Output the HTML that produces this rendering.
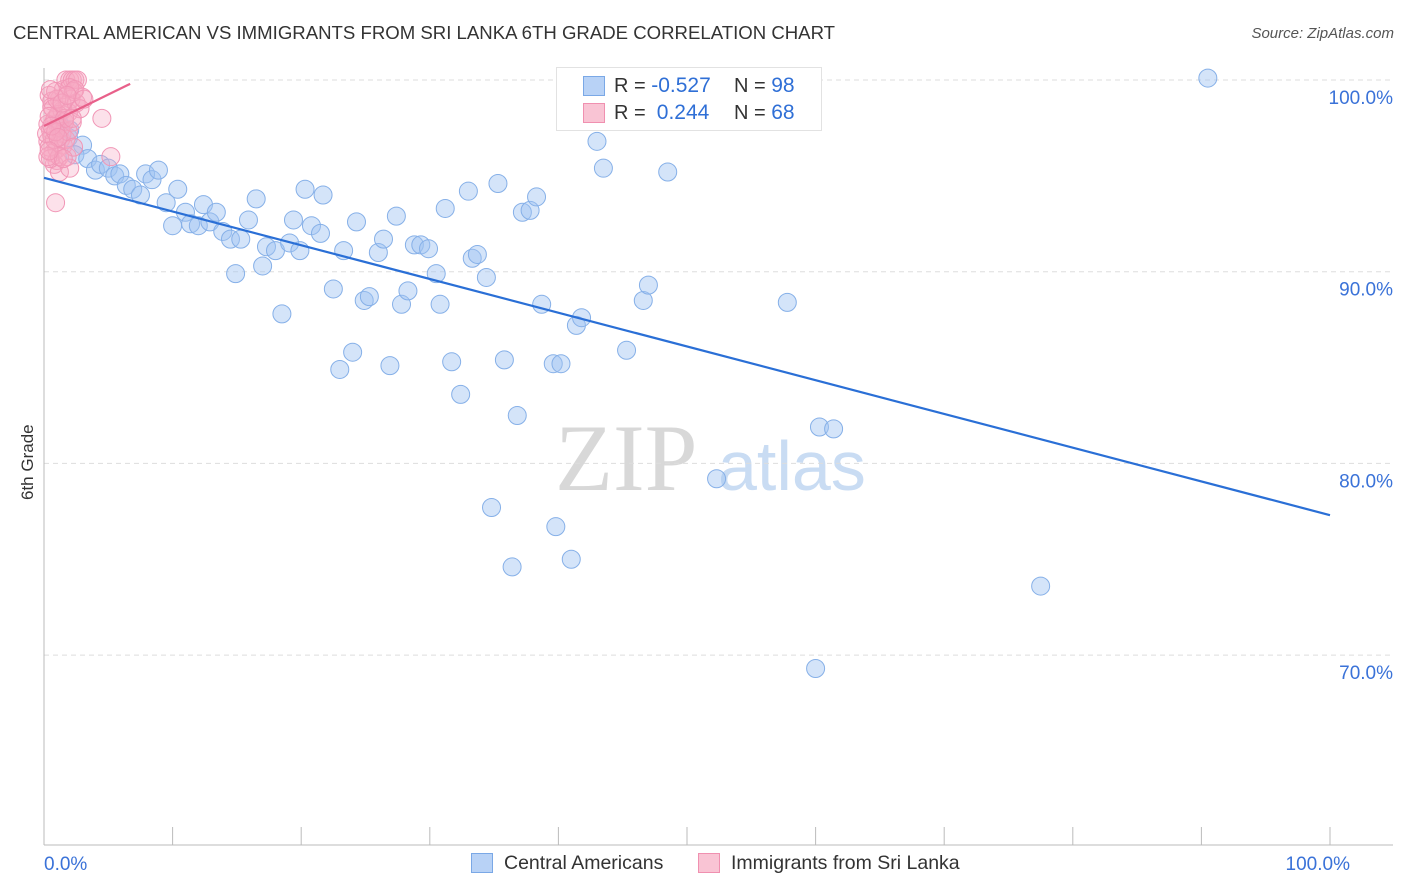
<!DOCTYPE html>
<html><head><meta charset="utf-8"><style>
body{margin:0;background:#fff;font-family:"Liberation Sans",sans-serif;}
#wrap{position:relative;width:1406px;height:892px;overflow:hidden;}
.t{position:absolute;white-space:nowrap;}
</style></head><body>
<div id="wrap">
<div class="t" style="left:13px;top:22px;font-size:18.6px;color:#333;">CENTRAL AMERICAN VS IMMIGRANTS FROM SRI LANKA 6TH GRADE CORRELATION CHART</div>
<div class="t" style="right:12px;top:25px;font-size:15px;color:#555;font-style:italic;">Source: ZipAtlas.com</div>
<div class="t" style="left:18px;top:500px;font-size:17px;color:#333;transform:rotate(-90deg);transform-origin:0 0;">6th Grade</div>
<svg id="svg" width="1406" height="892" style="position:absolute;left:0;top:0"></svg>
<div class="t" style="left:556px;top:67px;width:264px;height:62px;border:1px solid #e2e2e2;background:#fff;">
 <div style="position:absolute;left:26px;top:8px;width:20px;height:18px;background:#b8d2f6;border:1px solid #7aa8e6;"></div>
 <div style="position:absolute;left:26px;top:35px;width:20px;height:18px;background:#f9c4d4;border:1px solid #f090b0;"></div>
 <div class="t" style="left:57px;top:6px;font-size:20px;color:#333;">R = <span style="color:#2f6fd6;font-size:21px">-0.527</span></div>
 <div class="t" style="left:177px;top:6px;font-size:20px;color:#333;">N = <span style="color:#2f6fd6;font-size:21px">98</span></div>
 <div class="t" style="left:57px;top:33px;font-size:20px;color:#333;">R = &nbsp;<span style="color:#2f6fd6;font-size:21px">0.244</span></div>
 <div class="t" style="left:177px;top:33px;font-size:20px;color:#333;">N = <span style="color:#2f6fd6;font-size:21px">68</span></div>
</div>
<div class="t" style="left:471px;top:853px;width:20px;height:18px;background:#b8d2f6;border:1px solid #7aa8e6;"></div>
<div class="t" style="left:504px;top:852px;font-size:19.5px;color:#333;">Central Americans</div>
<div class="t" style="left:698px;top:853px;width:20px;height:18px;background:#f9c4d4;border:1px solid #f090b0;"></div>
<div class="t" style="left:731px;top:852px;font-size:19.5px;color:#333;">Immigrants from Sri Lanka</div>
</div>
<script>
const xTicks=[0,10,20,30,40,50,60,70,80,90,100];
const yTicks=[100,90,80,70];
const yTickLabels=["100.0%","90.0%","80.0%","70.0%"];
const xLabels=["0.0%","100.0%"];
const blueX=[1.9,3.0,2.4,3.4,4.0,4.4,5.0,5.5,5.9,6.4,6.9,7.5,7.9,8.4,8.9,9.5,10.0,10.4,11.0,11.4,12.0,12.4,12.9,13.4,13.9,14.5,14.9,15.3,15.9,16.5,17.0,17.3,18.0,18.5,19.1,19.4,19.9,20.3,20.8,21.5,21.7,22.5,23.0,23.3,24.0,24.3,24.9,25.3,26.0,26.4,26.9,27.4,27.8,28.3,28.8,29.3,29.9,30.5,30.8,31.2,31.7,32.4,33.0,33.3,33.7,34.4,34.8,35.3,35.8,36.4,36.8,37.2,37.8,38.3,38.7,39.6,39.8,40.2,41.0,41.4,41.8,43.0,43.5,45.3,46.6,47.0,48.5,49.1,52.3,57.8,60.0,60.3,61.4,77.5,90.5,1.2,2.0];
const blueY=[97.0,96.6,96.1,95.9,95.3,95.6,95.4,95.0,95.1,94.5,94.3,94.0,95.1,94.8,95.3,93.6,92.4,94.3,93.1,92.5,92.4,93.5,92.6,93.1,92.1,91.7,89.9,91.7,92.7,93.8,90.3,91.3,91.1,87.8,91.5,92.7,91.1,94.3,92.4,92.0,94.0,89.1,84.9,91.1,85.8,92.6,88.5,88.7,91.0,91.7,85.1,92.9,88.3,89.0,91.4,91.4,91.2,89.9,88.3,93.3,85.3,83.6,94.2,90.7,90.9,89.7,77.7,94.6,85.4,74.6,82.5,93.1,93.2,93.9,88.3,85.2,76.7,85.2,75.0,87.2,87.6,96.8,95.4,85.9,88.5,89.3,95.2,100.0,79.2,88.4,69.3,81.9,81.8,73.6,100.1,97.7,97.4];
const pinkX=[0.4,0.6,0.8,0.5,0.3,0.7,1.0,0.9,1.2,1.4,1.1,0.6,0.4,1.3,1.6,1.8,1.5,1.7,2.0,2.2,2.4,2.6,2.3,2.1,1.9,1.4,1.0,0.8,1.2,0.5,0.3,0.6,0.9,1.1,1.5,1.8,1.7,1.3,0.7,0.4,2.5,3.0,2.8,2.2,1.9,1.6,1.0,0.5,0.8,1.2,2.0,2.4,0.2,0.3,1.4,1.8,2.2,0.9,0.6,1.1,4.5,5.2,2.0,0.9,3.1,2.3,1.5,0.4];
const pinkY=[99.2,98.6,97.9,97.4,96.8,96.2,95.8,98.0,99.0,98.4,97.6,97.1,96.5,96.9,97.8,98.7,99.5,100.0,100.0,100.0,100.0,100.0,99.4,99.0,98.3,97.2,96.4,95.6,95.2,95.9,97.7,98.9,99.4,98.2,96.6,96.0,96.9,97.5,98.5,98.1,98.8,99.1,98.5,97.8,97.3,98.0,99.0,99.5,96.9,96.0,99.6,99.5,97.2,96.0,98.8,99.2,98.0,97.3,97.6,97.0,98.0,96.0,95.4,93.6,99.0,96.5,95.9,96.3];
const blueTrend=[0,94.9,100,77.3];
const pinkTrend=[0,97.6,6.7,99.8];
const NS="http://www.w3.org/2000/svg";
const svg=document.getElementById('svg');
const X0=44,X1=1330,Y100=80,PX10=191.7;
const sx=v=>X0+(X1-X0)*v/100;
const sy=v=>Y100+(100-v)*PX10/10;
function mk(tag,attrs){const e=document.createElementNS(NS,tag);for(const k in attrs)e.setAttribute(k,attrs[k]);svg.appendChild(e);return e;}
let w=mk('text',{x:555,y:490,'font-size':95,fill:'#d8d8d8','font-family':'Liberation Serif, serif'});w.textContent='ZIP';


w=mk('text',{x:718,y:490,'font-size':70,fill:'#c9dcf3','font-family':'Liberation Sans, sans-serif'});w.textContent='atlas';


yTicks.forEach((v,i)=>{
 const g=mk('line',{x1:X0,x2:1393,y1:sy(v),y2:sy(v),stroke:'#ddd','stroke-dasharray':'5,4'});
 
 
 const t=mk('text',{x:1393,y:sy(v)+24,'text-anchor':'end','font-size':19,fill:'#3a72d8','font-family':'Liberation Sans, sans-serif'});
 t.textContent=yTickLabels[i];
 
 
});
let ax=mk('line',{x1:X0,x2:1393,y1:845,y2:845,stroke:'#bbb'});


ax=mk('line',{x1:X0,x2:X0,y1:68,y2:845,stroke:'#bbb'});


xTicks.forEach(v=>{
 const l=mk('line',{x1:sx(v),x2:sx(v),y1:827,y2:845,stroke:'#bbb'});
 
 
});
[[0,'start'],[100,'end']].forEach((p,i)=>{
 const t=mk('text',{x:sx(p[0])+(i?20:0),y:870,'text-anchor':p[1],'font-size':19,fill:'#3a72d8','font-family':'Liberation Sans, sans-serif'});
 t.textContent=xLabels[i];
 
 
});
blueX.forEach((x,i)=>{
 const c=mk('circle',{cx:sx(x),cy:sy(blueY[i]),r:9,fill:'rgba(160,196,242,0.45)',stroke:'#86b0e8','stroke-width':1});
 
 
});
pinkX.forEach((x,i)=>{
 const c=mk('circle',{cx:sx(x),cy:sy(pinkY[i]),r:9,fill:'rgba(246,170,196,0.35)',stroke:'#f196b6','stroke-width':1});
 
 
});
let tl=mk('line',{x1:sx(blueTrend[0]),y1:sy(blueTrend[1]),x2:sx(blueTrend[2]),y2:sy(blueTrend[3]),stroke:'#2a6fd6','stroke-width':2.2});


tl=mk('line',{x1:sx(pinkTrend[0]),y1:sy(pinkTrend[1]),x2:sx(pinkTrend[2]),y2:sy(pinkTrend[3]),stroke:'#e8608a','stroke-width':2.2});


</script>
</body></html>
